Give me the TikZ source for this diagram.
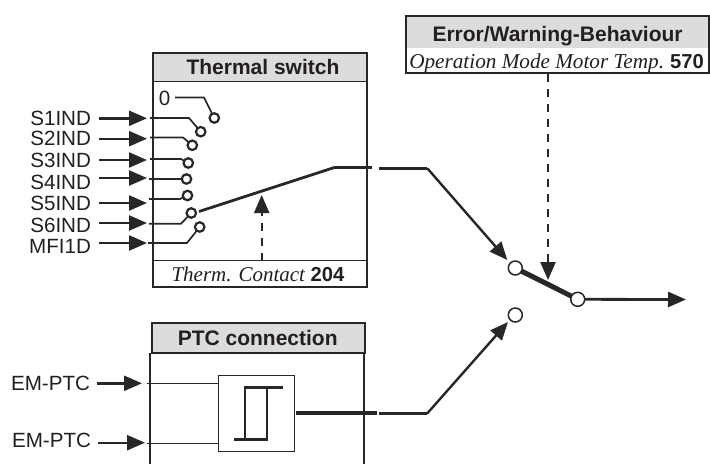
\documentclass[tikz,border=0pt]{standalone}
\usepackage{fontspec}
\setmainfont{Liberation Sans}
\newfontfamily\serifit{Liberation Serif}
\usetikzlibrary{arrows.meta}
\definecolor{ink}{HTML}{231F20}
\definecolor{hdr}{HTML}{DCDCDC}
\definecolor{line}{HTML}{262828}
\tikzset{
 x=1pt,y=-1pt,
 every node/.style={inner sep=0pt,outer sep=0pt,text=ink},
 lab/.style={font=\fontsize{20.6}{20.6}\selectfont,anchor=base east},
 head/.style={font=\fontsize{21}{21}\selectfont\bfseries,anchor=base},
 par/.style={font=\fontsize{20.2}{20.2}\selectfont,anchor=base west},
 boxln/.style={draw=line,line width=2pt},
 thin line/.style={draw=line,line width=1.7pt},
 contact/.style={circle,draw=line,line width=2.2pt,fill=white,minimum size=9.5pt},
 bigcontact/.style={circle,draw=line,line width=1.5pt,fill=white,minimum size=14pt},
 tip/.style={-{Triangle[length=18pt,width=15pt]}},
 flow/.style={draw=line,line width=2.4pt,tip},
 dashflow/.style={draw=line,line width=2.3pt,dash pattern=on 8pt off 7pt,-{Triangle[length=18pt,width=15pt]}},
 heavy/.style={draw=line,line width=3pt},
}
\begin{document}
\begin{tikzpicture}
\useasboundingbox (0,0) rectangle (710,464);
% Error box
\fill[hdr] (406,16) rectangle (709.3,47.7);
\node[draw=line,line width=2pt,minimum width=303.3pt,minimum height=56.7pt,anchor=north west] (errbox) at (406,16) {};
\node[head] (errt) at (557.6,41.5) {Error/Warning-Behaviour};
\node[par] (errp) at (409.3,68) {{\serifit\itshape\fontsize{21.2}{21.2}\selectfont Operation Mode Motor Temp.}\hspace{0.3em}\textbf{570}};
% Thermal box
\fill[hdr] (153,52.7) rectangle (366.7,81.7);
\node[draw=line,line width=2.2pt,minimum width=213.7pt,minimum height=234pt,anchor=north west] (thbox) at (153,52.7) {};
\draw[line width=1.1pt,draw=line] (153,81.7) -- (366.7,81.7);
\draw[line width=0.9pt,draw=line] (153,260.7) coordinate (fl) -- (366.7,260.7);
\node[head] (tht) at (263,74.5) {Thermal switch};
\node[par] (thp) at (171.5,281) {{\serifit\itshape\fontsize{21}{21}\selectfont Therm. Contact}\hspace{0.25em}\textbf{204}};
% Inputs
\foreach \n/\t/\ly/\ay in {a/S1IND/125.5/118.3,b/S2IND/145.5/138.7,c/S3IND/167/160,d/S4IND/189.5/178,e/S5IND/210/203,f/S6IND/232/223,g/MFI1D/253/243}{
 \node[lab] (l\n) at (91,\ly) {\t};
 \coordinate (s\n) at (99,\ay);
 \coordinate (t\n) at (147,\ay);
 \draw[flow] (s\n) -- (t\n);
}
\node[font=\fontsize{20.6}{20.6}\selectfont,anchor=base] (zero) at (164.5,105) {0};
% contacts
\node[contact] (c0) at (214.3,118) {};
\node[contact] (c1) at (200.7,131.7) {};
\node[contact] (c2) at (192.3,145.3) {};
\node[contact] (c3) at (188.3,163) {};
\node[contact] (c4) at (186.5,179) {};
\node[contact] (c5) at (187.5,195.5) {};
\node[contact] (c6) at (191.3,213) {};
\node[contact] (c7) at (199.7,227) {};
\draw[thin line] (175,97.5) -- (204,97.5) -- (c0);
\draw[thin line] (150,118) -- (189,118) -- (c1);
\draw[thin line] (150,137.5) -- (183,137.5) -- (c2);
\draw[thin line] (150,159) -- (181,159) -- (c3);
\draw[draw=line,line width=1.9pt] (149,179) -- (c4);
\draw[thin line] (149,199) -- (180,199) -- (c5);
\draw[thin line] (149,223.7) -- (181,223.7) -- (c6);
\draw[thin line] (148,243) -- (187,243) -- (c7);
% wiper
\coordinate (w1) at (335,167.3);
\coordinate (w2) at (427.3,168.3);
\coordinate (w0) at (199,211.5);
\node[bigcontact] (up) at (515.3,268) {};
\node[bigcontact] (lo) at (515.3,315) {};
\coordinate (rt) at (577.7,299.3);
\draw[draw=line,line width=2.8pt] (w0) -- (w1);
\draw[draw=line,line width=3.2pt] (w1) -- (371.7,167.3);
\draw[heavy] (379.3,168.3) -- (w2);
\coordinate (uptip) at (507.3,260);
\draw[flow] (w2) -- (uptip);
% dashed
\coordinate (fs) at (261.7,260.7);
\coordinate (ft) at (261.7,195);
\draw[dashflow] (fs) -- (ft);
% switch
\draw[draw=line,line width=5pt] (up) -- (rt);
\node[bigcontact] (right) at (rt) {};
\coordinate (dt) at (548,280);
\draw[dashflow] (548,74) -- (dt);
\coordinate (out) at (686,299.5);
\draw[draw=line,line width=2.8pt,tip] (right) -- (out);
% PTC
\draw[boxln] (150.3,352.7) -- (150.3,464);
\draw[boxln] (363.7,352.7) -- (363.7,464);
\node[fill=hdr,draw=line,line width=2.2pt,minimum width=213.3pt,minimum height=29.4pt,anchor=north west] (ptch) at (151.7,323.3) {};
\node[head] (ptct) at (257.7,345) {PTC connection};
\node[draw=line,line width=1.5pt,minimum width=76pt,minimum height=76pt,anchor=north west] (sym) at (218.3,375.7) {};
\node[lab] (e1) at (90,390.7) {EM-PTC};
\node[lab] (e2) at (91,447.7) {EM-PTC};
\draw[flow] (97,383.3) coordinate (e1s) -- (142,383.3) coordinate (e1t);
\draw[flow] (98,442.7) coordinate (e2s) -- (145,442.7) coordinate (e2t);
\draw[draw=line,line width=1.4pt] (147,383.3) -- (218.3,383.3);
\draw[draw=line,line width=1.4pt] (147,443.3) -- (218.3,443.3);
\draw[draw=line,line width=1.7pt] (244.7,387.3) -- (244.7,439) (267.3,387.3) -- (267.3,439);
\draw[draw=line,line width=3pt] (244,387.3) -- (283,387.3);
\draw[draw=line,line width=3pt] (234,439) -- (267.9,439);
\draw[draw=line,line width=4pt] (296,412.7) -- (376.7,412.7);
\coordinate (b1) at (427,413.7);
\draw[heavy] (379.3,413.7) -- (b1);
\coordinate (lotip) at (508,322);
\draw[flow] (b1) -- (lotip);
\end{tikzpicture}
\end{document}
